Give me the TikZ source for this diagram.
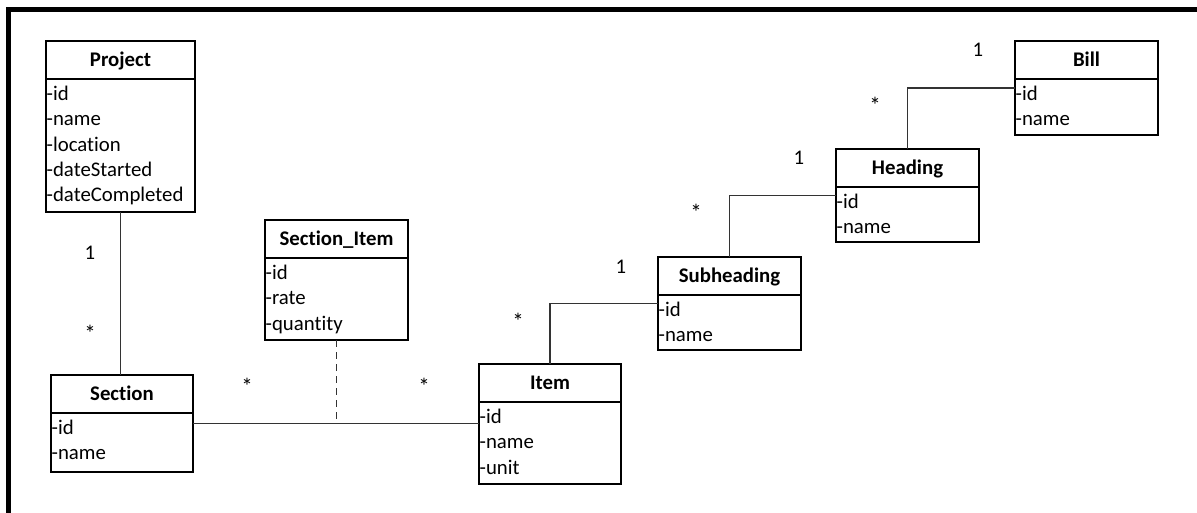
\documentclass[tikz,border=0pt]{standalone}
\usepackage{fontspec}
\setmainfont{Carlito}[Ligatures={NoCommon,NoContextual},Contextuals=NoAlternate]

% One UML class: name, top-left corner, width, height, title, attribute list
\newcommand{\umlclass}[6]{%
  \node[classbox, minimum width=#3, minimum height=#4, anchor=north west] (#1) at #2 {};
  \draw[sepline] ([yshift=-38pt]#1.north west) -- ([yshift=-38pt]#1.north east);
  \node[classtitle] (#1-title) at ([yshift=-25.7pt]#1.north) {#5};
  \foreach \attrname [count=\k] in {#6}
    \node[attr] (#1-attr\k) at ([xshift=0.5pt, yshift={-(59.6+(\k-1)*25.3)*1pt}]#1.north west) {\attrname};
}

\begin{document}
\begin{tikzpicture}[x=1pt,y=-1pt,
  classbox/.style={draw=black, line width=1.6pt, inner sep=0pt, outer sep=0pt},
  sepline/.style={draw=black, line width=1.6pt},
  classtitle/.style={font=\fontsize{20.8}{25}\selectfont\bfseries, inner sep=0pt, anchor=base},
  attr/.style={font=\fontsize{20.8}{25}\selectfont, inner sep=0pt, anchor=base west},
  assoc/.style={draw=black!80, line width=1.2pt},
  linkclass/.style={assoc, dash pattern=on 7pt off 5pt},
  mult/.style={font=\fontsize{20.8}{25}\selectfont, inner sep=0pt, anchor=base},
  manymult/.style={mult, font=\fontsize{23}{25}\selectfont},
  pageframe/.style={draw=black, line width=5pt}
]
\useasboundingbox (0,0) rectangle (1197,513);

% page frame (left and top edges)
\draw[pageframe] (8.5,520) -- (8.5,9.5) -- (1205,9.5);

% classes
\umlclass{project}{(46,41)}{149}{171}{Project}{-id,-name,-location,-dateStarted,-dateCompleted}
\umlclass{section}{(51,375)}{142}{97}{Section}{-id,-name}
\umlclass{sectionitem}{(265,220)}{143}{120}{Section\_Item}{-id,-rate,-quantity}
\umlclass{item}{(479,364)}{142}{120}{Item}{-id,-name,-unit}
\umlclass{subheading}{(658,257)}{143}{93}{Subheading}{-id,-name}
\umlclass{heading}{(836,149)}{143}{93}{Heading}{-id,-name}
\umlclass{bill}{(1015,41)}{143}{94}{Bill}{-id,-name}

% associations
\draw[assoc] (project.south) -- (project.south |- section.north);
\draw[assoc] (section.east) -- (section.east -| item.west);
\coordinate (linkpt) at (sectionitem.south |- section.east);
\draw[linkclass] (sectionitem.south) -- (linkpt);
\draw[assoc] (item.north) |- (subheading.west);
\draw[assoc] (subheading.north) |- (heading.west);
\draw[assoc] (heading.north) |- (bill.west);

% multiplicities
\node[mult] (m-project) at (90,259.5) {1};
\node[manymult] (m-section) at (90,341.5) {*};
\node[manymult] (m-sec-item) at (247,394) {*};
\node[manymult] (m-item-sec) at (424,394) {*};
\node[mult] (m-subheading) at (621,273) {1};
\node[manymult] (m-item) at (518,329) {*};
\node[mult] (m-heading) at (799,164.5) {1};
\node[manymult] (m-sub) at (696,220.5) {*};
\node[mult] (m-bill) at (978,57) {1};
\node[manymult] (m-head) at (875,114) {*};
\end{tikzpicture}
\end{document}
